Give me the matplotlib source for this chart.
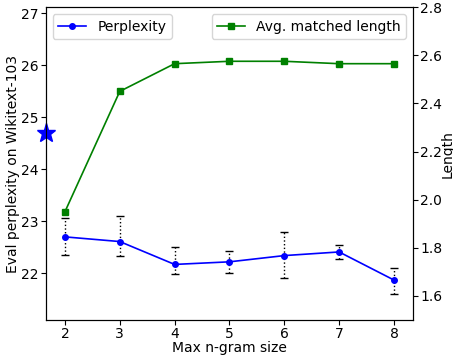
import matplotlib.pyplot as plt

# max n-gram size sweep
ngram = [2, 3, 4, 5, 6, 7, 8]
ppl = [22.70, 22.61, 22.17, 22.22, 22.34, 22.41, 21.87]
ppl_lo = [22.35, 22.33, 21.99, 22.00, 21.91, 22.28, 21.61]
ppl_hi = [23.07, 23.11, 22.50, 22.43, 22.79, 22.54, 22.10]
match_len = [1.95, 2.45, 2.565, 2.575, 2.575, 2.565, 2.565]
baseline_ppl = 24.69

err = [[p - lo for p, lo in zip(ppl, ppl_lo)], [hi - p for p, hi in zip(ppl, ppl_hi)]]

plt.rcParams['font.size'] = 10
plt.rcParams['xtick.major.pad'] = 1.5
plt.rcParams['ytick.major.pad'] = 1.5

fig = plt.figure(figsize=(4.53, 3.56), dpi=100)
ax = fig.add_axes([0.101, 0.101, 0.811, 0.879])

eb = ax.errorbar(ngram, ppl, yerr=err, fmt='none', ecolor='black',
                 elinewidth=1, capsize=3)
eb[-1][0].set_linestyle(':')
ax.plot(ngram, ppl, color='blue', marker='o', markersize=4, linewidth=1.2,
        label='Perplexity')
ax.plot([1.65], [baseline_ppl], marker='*', color='blue', markersize=14,
        clip_on=False, zorder=5)
ax.set_xlim(1.65, 8.35)
ax.set_ylim(21.1, 27.12)
ax.set_xlabel('Max n-gram size', labelpad=0)
ax.set_ylabel('Eval perplexity on Wikitext-103')
ax.yaxis.set_label_coords(-0.07, 0.5)
ax.legend(loc='upper left')

ax2 = ax.twinx()
ax2.plot(ngram, match_len, color='green', marker='s', markersize=4,
         linewidth=1.2, label='Avg. matched length')
ax2.set_ylim(1.5, 2.8)
ax2.set_ylabel('Length')
ax2.yaxis.set_label_coords(1.074, 0.53)
ax2.legend(loc='upper right')

plt.savefig('out.png', dpi=100)
